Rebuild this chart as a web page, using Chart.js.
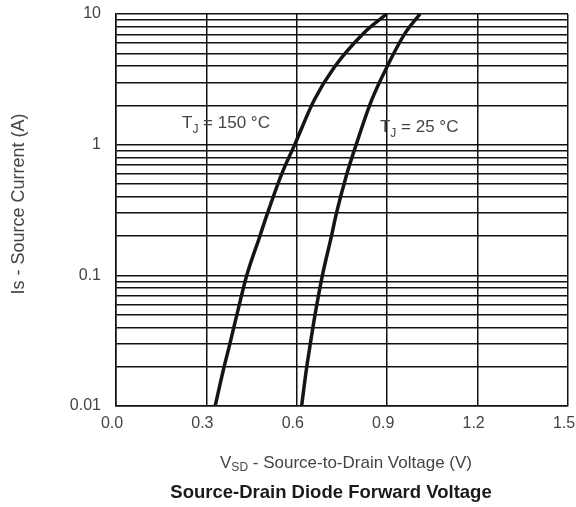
<!DOCTYPE html>
<html>
<head>
<meta charset="utf-8">
<script src="https://cdn.jsdelivr.net/npm/chart.js@4.4.1/dist/chart.umd.min.js"></script>
<style>
  html, body { margin: 0; padding: 0; background: #fff; }
  #wrap { width: 576px; height: 507px; }
</style>
</head>
<body>
<div id="wrap"><canvas id="diodeChart"></canvas></div>
<script>
// values
const voltTicks = [0, 0.3, 0.6, 0.9, 1.2, 1.5];
const decadeTicks = [0.01, 0.1, 1, 10];
const v150 = [0.329, 0.357, 0.375, 0.399, 0.434, 0.476, 0.502, 0.550, 0.593, 0.657, 0.725, 0.821, 0.898];
const i150 = [0.01, 0.0192, 0.0281, 0.0477, 0.1, 0.195, 0.295, 0.597, 1, 2.18, 3.93, 7.1, 10];
const v25 = [0.616, 0.632, 0.643, 0.659, 0.685, 0.714, 0.731, 0.766, 0.797, 0.848, 0.899, 0.959, 1.009];
const i25 = [0.01, 0.0192, 0.0281, 0.0477, 0.1, 0.195, 0.295, 0.597, 1, 2.18, 3.93, 7.1, 10];

// minor grid lines: 1..9 per decade
const currentGrid = [];
[0.01, 0.1, 1].forEach(d => {
    for (let k = 1; k < 10; k++) currentGrid.push(+(d * k).toPrecision(3));
});
currentGrid.push(10);

// curve labels, anchored in data units
const notes = [
    { sub: 'J', rest: ' = 150 \u00B0C', v: 0.219, i: 1.45 },
    { sub: 'J', rest: ' = 25 \u00B0C', v: 0.876, i: 1.36 }
];

const FONT = '"Liberation Sans", Arial, sans-serif';
const TXT = '#444';

const toPoints = (xs, ys) => xs.map((x, i) => ({ x: x, y: ys[i] }));

const textPlugin = {
    id: 'textPlugin',
    afterDraw: chart => {
        const ctx = chart.ctx;
        const xs = chart.scales.x;
        const ys = chart.scales.y;
        ctx.save();
        ctx.fillStyle = TXT;
        ctx.textBaseline = 'middle';
        ctx.textAlign = 'left';

        // curve labels with subscript J
        notes.forEach(n => {
            let x = xs.getPixelForValue(n.v);
            const y = ys.getPixelForValue(n.i);
            ctx.font = '17px ' + FONT;
            ctx.fillText('T', x, y);
            x += ctx.measureText('T').width;
            ctx.font = '12px ' + FONT;
            ctx.fillText(n.sub, x, y + 6);
            x += ctx.measureText(n.sub).width;
            ctx.font = '17px ' + FONT;
            ctx.fillText(n.rest, x, y);
        });

        // x axis title with subscript SD
        const cx = 346;
        const ty = 463;
        ctx.font = '17px ' + FONT;
        const p1 = 'V';
        const p3 = ' - Source-to-Drain Voltage (V)';
        const w1 = ctx.measureText(p1).width;
        const w3 = ctx.measureText(p3).width;
        ctx.font = '12px ' + FONT;
        const w2 = ctx.measureText('SD').width;
        let sx = cx - (w1 + w2 + w3) / 2;
        ctx.font = '17px ' + FONT;
        ctx.fillText(p1, sx, ty);
        sx += w1;
        ctx.font = '12px ' + FONT;
        ctx.fillText('SD', sx, ty + 5);
        sx += w2;
        ctx.font = '17px ' + FONT;
        ctx.fillText(p3, sx, ty);

        // chart caption
        ctx.fillStyle = '#1a1a1a';
        ctx.font = 'bold 18.5px ' + FONT;
        ctx.textAlign = 'center';
        ctx.fillText('Source-Drain Diode Forward Voltage', 331, 493);

        // y axis title
        ctx.fillStyle = TXT;
        ctx.font = '18px ' + FONT;
        ctx.translate(19, 204);
        ctx.rotate(-Math.PI / 2);
        ctx.fillText('Is - Source Current (A)', 0, 0);
        ctx.restore();
    }
};

const lineStyle = {
    borderColor: '#151515',
    borderWidth: 3.5,
    pointRadius: 0,
    fill: false,
    cubicInterpolationMode: 'monotone'
};

new Chart(document.getElementById('diodeChart'), {
    type: 'line',
    plugins: [textPlugin],
    data: {
        datasets: [
            Object.assign({ label: 'TJ = 150 C', data: toPoints(v150, i150) }, lineStyle),
            Object.assign({ label: 'TJ = 25 C', data: toPoints(v25, i25) }, lineStyle)
        ]
    },
    options: {
        animation: false,
        responsive: true,
        maintainAspectRatio: false,
        layout: { padding: { left: 0, right: 8, top: 14, bottom: 0 } },
        plugins: {
            legend: { display: false },
            tooltip: { enabled: false }
        },
        scales: {
            x: {
                type: 'linear',
                min: 0,
                max: 1.5,
                afterBuildTicks: scale => {
                    scale.ticks = voltTicks.map(v => ({ value: v }));
                },
                afterFit: scale => {
                    scale.height = 101;
                    scale.paddingLeft = 0;
                    scale.paddingRight = 0;
                },
                ticks: {
                    color: TXT,
                    font: { family: FONT, size: 16 },
                    padding: 8,
                    maxRotation: 0,
                    labelOffset: -4,
                    callback: v => Number(v).toFixed(1)
                },
                grid: { color: '#111', lineWidth: 1.5, drawTicks: false },
                border: { color: '#111', width: 1.5 }
            },
            y: {
                type: 'logarithmic',
                min: 0.01,
                max: 10,
                afterBuildTicks: scale => {
                    scale.ticks = currentGrid.map(v => ({ value: v }));
                },
                afterFit: scale => {
                    scale.width = 116;
                    scale.paddingTop = 0;
                    scale.paddingBottom = 0;
                },
                ticks: {
                    color: TXT,
                    font: { family: FONT, size: 16 },
                    padding: 15,
                    autoSkip: false,
                    callback: v => decadeTicks.includes(v) ? String(v) : ''
                },
                grid: { color: '#111', lineWidth: 1.4, drawTicks: false },
                border: { color: '#111', width: 1.5 }
            }
        }
    }
});
</script>
</body>
</html>
